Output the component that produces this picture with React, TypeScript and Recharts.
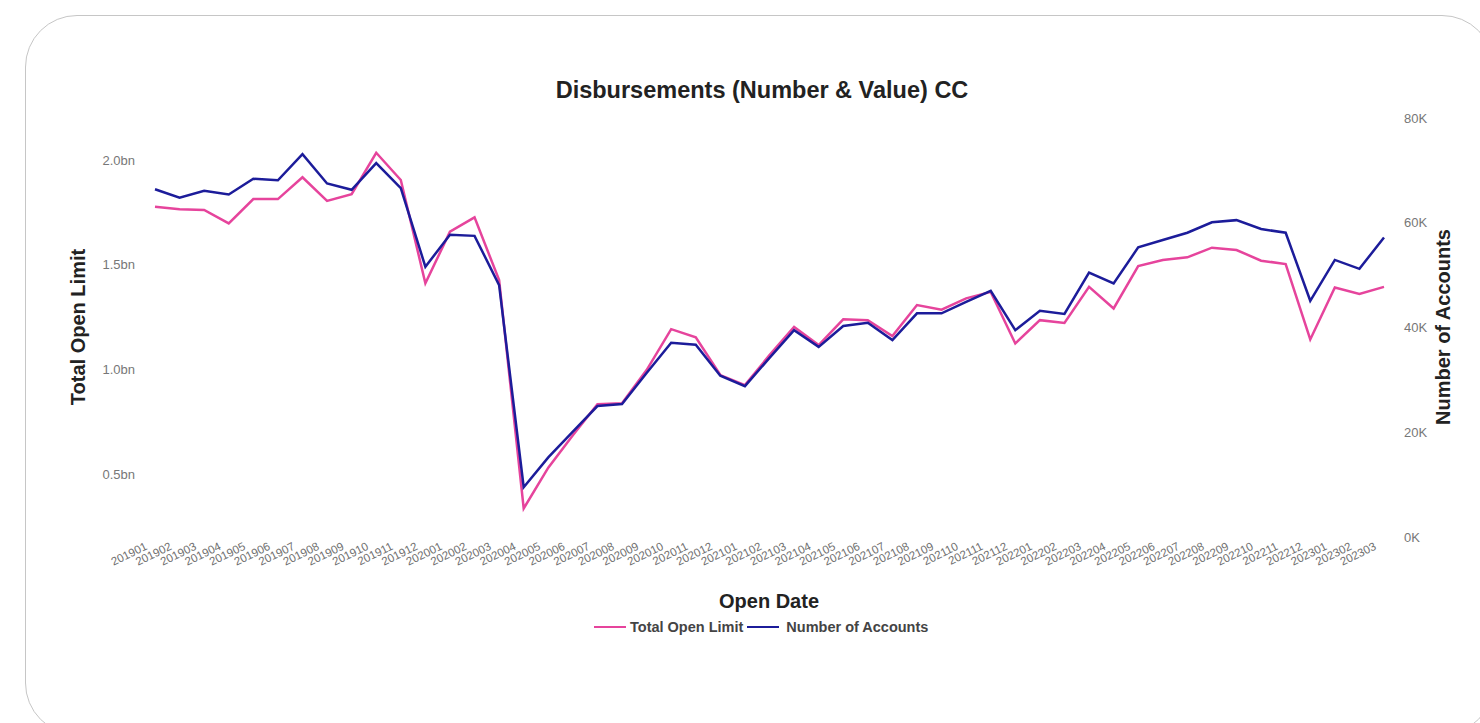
import React from "react";
import { Legend, Line, LineChart, XAxis, YAxis } from "recharts";

// open date (yyyymm)
const months = [
  "201901", "201902", "201903", "201904", "201905", "201906", "201907", "201908", "201909", "201910",
  "201911", "201912", "202001", "202002", "202003", "202004", "202005", "202006", "202007", "202008",
  "202009", "202010", "202011", "202012", "202101", "202102", "202103", "202104", "202105", "202106",
  "202107", "202108", "202109", "202110", "202111", "202112", "202201", "202202", "202203", "202204",
  "202205", "202206", "202207", "202208", "202209", "202210", "202211", "202212", "202301", "202302",
  "202303",
];

// Total Open Limit, in billions
const openLimitBn = [
  1.776, 1.764, 1.761, 1.697, 1.813, 1.813, 1.917, 1.804, 1.836, 2.034,
  1.904, 1.411, 1.657, 1.726, 1.426, 0.336, 0.531, 0.686, 0.834, 0.838,
  0.997, 1.192, 1.153, 0.973, 0.925, 1.068, 1.203, 1.116, 1.239, 1.235,
  1.159, 1.307, 1.285, 1.339, 1.37, 1.124, 1.235, 1.222, 1.394, 1.291,
  1.493, 1.522, 1.535, 1.581, 1.57, 1.519, 1.503, 1.143, 1.391, 1.36,
  1.394,
];

// Number of Accounts, in thousands
const accountsK = [
  66.4, 64.8, 66.1, 65.4, 68.4, 68.1, 73.1, 67.5, 66.3, 71.4,
  66.6, 51.6, 57.7, 57.5, 48.1, 9.5, 15.2, 20.1, 25.0, 25.4,
  31.3, 37.1, 36.7, 30.8, 28.8, 34.2, 39.5, 36.3, 40.3, 40.9,
  37.6, 42.7, 42.7, 44.9, 47.0, 39.5, 43.2, 42.6, 50.5, 48.4,
  55.3, 56.7, 58.1, 60.1, 60.5, 58.8, 58.1, 45.1, 52.9, 51.2,
  57.2,
];

const leftTicks = [0.5, 1.0, 1.5, 2.0];
const rightTicks = [0, 20, 40, 60, 80];

const data = months.map((m, i) => ({
  month: m,
  openLimit: openLimitBn[i],
  accounts: accountsK[i],
}));

const PINK = "#e6449c";
const BLUE = "#1c1c9a";
const FONT = "'Liberation Sans', Arial, sans-serif";

const XTick = (props: any) => {
  const { x, y, payload } = props;
  const tx = x - 7;
  const ty = y + 4;
  return (
    <text
      x={tx}
      y={ty}
      transform={`rotate(-26 ${tx} ${ty})`}
      textAnchor="end"
      fontSize={11.5}
      fill="#6f6f6f"
      fontFamily={FONT}
    >
      {payload.value}
    </text>
  );
};

const LegendContent = () => (
  <div style={{ display: "flex", alignItems: "center", fontFamily: FONT, fontSize: 14.5, fontWeight: 700, color: "#444" }}>
    <svg width={32} height={4} style={{ marginRight: 4 }}>
      <line x1={0} y1={2} x2={32} y2={2} stroke={PINK} strokeWidth={2} />
    </svg>
    <span style={{ marginRight: 4 }}>Total Open Limit</span>
    <svg width={32} height={4} style={{ marginRight: 7 }}>
      <line x1={0} y1={2} x2={32} y2={2} stroke={BLUE} strokeWidth={2} />
    </svg>
    <span>Number of Accounts</span>
  </div>
);

export default function App() {
  return (
    <div style={{ position: "absolute", left: 0, top: 0, width: 1480, height: 723, overflow: "hidden", background: "#fff" }}>
      <div
        style={{
          position: "absolute",
          left: 25,
          top: 15,
          width: 1469,
          height: 720,
          border: "1px solid #c6c6c6",
          borderRadius: 52,
          boxSizing: "border-box",
        }}
      />
      <div style={{ position: "absolute", left: 0, top: 0 }}>
        <LineChart
          width={1480}
          height={723}
          data={data}
          margin={{ top: 118, right: 24, bottom: 126, left: 83 }}
        >
          <XAxis
            dataKey="month"
            interval={0}
            padding={{ left: 12, right: 12 }}
            axisLine={false}
            tickLine={false}
            height={60}
            tick={<XTick />}
          />
          <YAxis
            yAxisId="left"
            domain={[0.2, 2.2]}
            ticks={leftTicks}
            tickFormatter={(v: number) => `${v.toFixed(1)}bn`}
            axisLine={false}
            tickLine={false}
            width={60}
            tick={{ fill: "#777", fontSize: 13, fontFamily: FONT }}
          />
          <YAxis
            yAxisId="right"
            orientation="right"
            domain={[0, 80]}
            ticks={rightTicks}
            tickFormatter={(v: number) => `${v}K`}
            axisLine={false}
            tickLine={false}
            width={60}
            tick={{ fill: "#777", fontSize: 13, fontFamily: FONT, textAnchor: "start" }}
          />
          <Legend
            layout="horizontal"
            verticalAlign="middle"
            align="center"
            content={<LegendContent />}
            wrapperStyle={{ position: "absolute", top: 619, left: 594, width: "auto" }}
          />
          <Line
            yAxisId="left"
            type="linear"
            dataKey="openLimit"
            name="Total Open Limit"
            stroke={PINK}
            strokeWidth={2.5}
            dot={false}
            isAnimationActive={false}
          />
          <Line
            yAxisId="right"
            type="linear"
            dataKey="accounts"
            name="Number of Accounts"
            stroke={BLUE}
            strokeWidth={2.5}
            dot={false}
            isAnimationActive={false}
          />
        </LineChart>
      </div>
      <svg
        width={1480}
        height={723}
        style={{ position: "absolute", left: 0, top: 0, pointerEvents: "none" }}
        fontFamily={FONT}
        fontWeight={700}
        fill="#222"
      >
        <text x={762} y={90} fontSize={23.5} textAnchor="middle" dominantBaseline="central">
          Disbursements (Number &amp; Value) CC
        </text>
        <text x={769} y={601} fontSize={20} textAnchor="middle" dominantBaseline="central">
          Open Date
        </text>
        <text
          x={78}
          y={327}
          fontSize={20}
          textAnchor="middle"
          dominantBaseline="central"
          transform="rotate(-90 78 327)"
        >
          Total Open Limit
        </text>
        <text
          x={1443}
          y={327}
          fontSize={20}
          textAnchor="middle"
          dominantBaseline="central"
          transform="rotate(-90 1443 327)"
        >
          Number of Accounts
        </text>
      </svg>
    </div>
  );
}
